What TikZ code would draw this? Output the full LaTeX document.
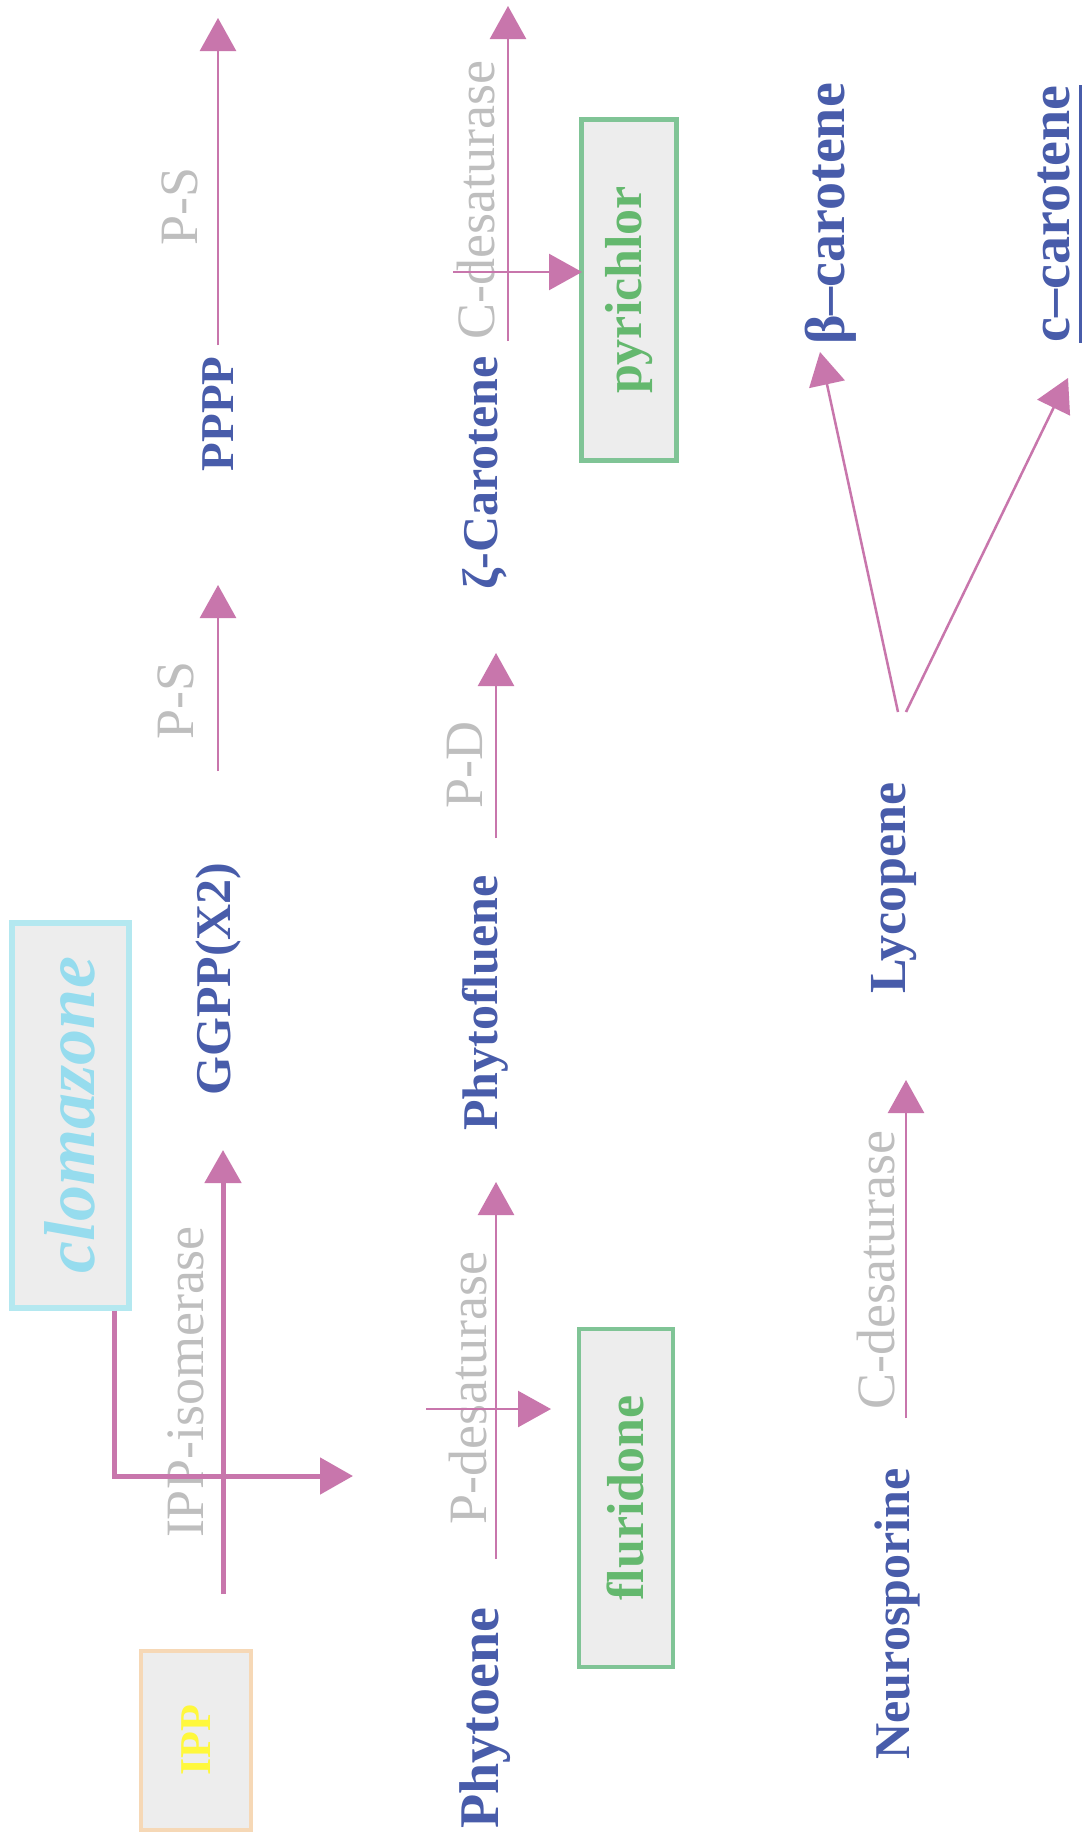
\documentclass[tikz,border=0pt]{standalone}
\usepackage{fontspec}
\setmainfont{Liberation Serif}
\usetikzlibrary{arrows.meta}
\definecolor{txtblue}{RGB}{72,92,170}
\definecolor{apink}{RGB}{200,118,172}
\definecolor{lblgray}{RGB}{190,190,190}
\definecolor{gtext}{RGB}{100,184,110}
\definecolor{gborder}{RGB}{128,196,150}
\definecolor{boxfill}{RGB}{237,237,237}
\definecolor{ippborder}{RGB}{246,216,182}
\definecolor{ipptext}{RGB}{255,248,60}
\definecolor{cloborder}{RGB}{180,232,240}
\definecolor{clotext}{RGB}{150,220,238}
\begin{document}
\begin{tikzpicture}[x=1pt,y=-1pt,
  chem/.style={rotate=90, inner sep=0pt, text=txtblue, font=\fontsize{50}{56}\selectfont\bfseries},
  bigchem/.style={chem, font=\fontsize{56}{62}\selectfont\bfseries},
  enz/.style={rotate=90, inner sep=0pt, text=lblgray, font=\fontsize{54}{60}\selectfont},
  flow/.style={draw=apink, line width=2.5pt, -{Triangle[length=33pt,width=36pt]}},
  thickflow/.style={flow, line width=5pt},
  inhib/.style={rotate=90, draw=gborder, line width=4.5pt, fill=boxfill, text=gtext,
     font=\fontsize{52}{58}\selectfont\bfseries, inner sep=0pt}
]
\useasboundingbox (0,0) rectangle (1087,1845);
\fill[white] (0,0) rectangle (1087,1845);

% boxes
\node[rotate=90, draw=ippborder, line width=4pt, fill=boxfill, text=ipptext,
  font=\fontsize{44}{48}\selectfont\bfseries, minimum width=179pt, minimum height=110pt, inner sep=0pt]
  (ipp) at (196,1740) {\raisebox{-4pt}{IPP}};
\node[rotate=90, draw=cloborder, line width=6pt, fill=boxfill, text=clotext,
  font=\fontsize{72}{80}\selectfont\bfseries\itshape, minimum width=385pt, minimum height=117pt, inner sep=0pt]
  (clo) at (70,1115) {\raisebox{-7pt}{clomazone}};
\node[inhib, minimum width=338pt, minimum height=94pt] (flu) at (626,1498) {fluridone};
\node[inhib, minimum width=341pt, minimum height=95pt] (pyr) at (629,290) {pyrichlor};

% compounds
\node[chem, font=\fontsize{56}{62}\selectfont\bfseries] (phytoene) at (485,1718) {Phytoene};
\node[chem] (phytofluene) at (485,1003) {Phytofluene};
\node[chem] (zeta) at (485,473) {ζ-Carotene};
\node[chem] (ggpp) at (218,979) {GGPP(X2)};
\node[chem, font=\fontsize{47}{52}\selectfont\bfseries] (pppp) at (218,414) {PPPP};
\node[chem] (neuro) at (897,1614) {Neurosporine};
\node[chem, font=\fontsize{52}{58}\selectfont\bfseries] (lyco) at (894,888) {Lycopene};
\node[bigchem] (beta) at (831,214) {β–carotene};
\node[bigchem] (eps) at (1054,214) {c–carotene};
\draw[txtblue, line width=3pt] ([xshift=10pt]eps.south west) -- ([xshift=10pt]eps.south east);

% enzyme labels
\node[enz] (ippiso) at (186,1382) {IPP-isomerase};
\node[enz] (ps1) at (176,700) {P-S};
\node[enz] (ps2) at (180,206) {P-S};
\node[enz] (pdes) at (468,1388) {P-desaturase};
\node[enz] (pd) at (465,765) {P-D};
\node[enz] (cdes1) at (476,200) {C-desaturase};
\node[enz] (cdes2) at (876,1270) {C-desaturase};

% arrow end points
\coordinate (a1s) at (223,1594); \coordinate (a1e) at (223,1150);
\coordinate (a2s) at (218,771);  \coordinate (a2e) at (218,585);
\coordinate (a3s) at (218,345);  \coordinate (a3e) at (218,18);
\coordinate (b1s) at (496,1559); \coordinate (b1e) at (496,1182);
\coordinate (b2s) at (496,838);  \coordinate (b2e) at (496,653);
\coordinate (b3s) at (508,341);  \coordinate (b3e) at (508,6);
\coordinate (c1s) at (906,1418); \coordinate (c1e) at (906,1080);
\coordinate (l1s) at (898,712);  \coordinate (l1e) at (820,352);
\coordinate (l2s) at (906,712);  \coordinate (l2e) at (1068,378);
\coordinate (fs) at (426,1409);  \coordinate (fe) at (551,1409);
\coordinate (ps) at (453,272);   \coordinate (pe) at (582,272);
\coordinate (cloe) at (353,1476);

% arrows
\draw[thickflow] (a1s) -- (a1e);
\draw[flow] (a2s) -- (a2e);
\draw[flow] (a3s) -- (a3e);
\draw[flow] (b1s) -- (b1e);
\draw[flow] (b2s) -- (b2e);
\draw[flow] (b3s) -- (b3e);
\draw[flow] (c1s) -- (c1e);
\draw[flow] (l1s) -- (l1e);
\draw[flow] (l2s) -- (l2e);
\draw[flow] (fs) -- (fe);
\draw[flow] (ps) -- (pe);
\draw[thickflow] ([xshift=44pt]clo.west) |- (cloe);
\end{tikzpicture}
\end{document}
